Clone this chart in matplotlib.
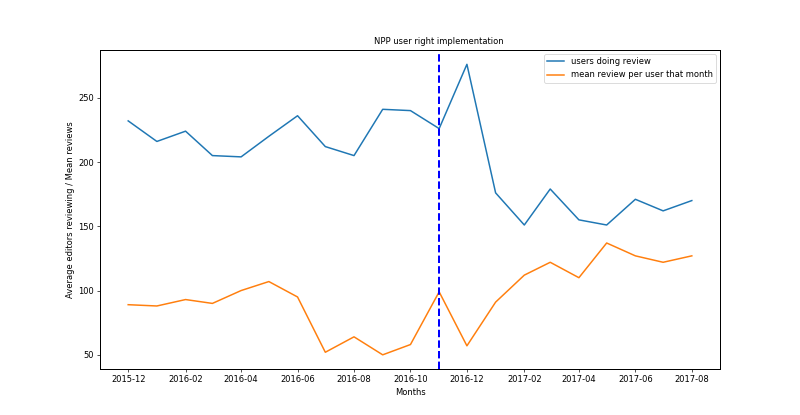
import pandas as pd
import matplotlib
matplotlib.use("Agg")
import matplotlib.pyplot as plt
import matplotlib.transforms as mtransforms

# monthly data, 2015-12 .. 2017-08
months = pd.date_range("2015-12-01", "2017-08-01", freq="MS")

users_doing_review = [232, 216, 224, 205, 204, 220, 236, 212, 205, 241, 240, 226,
                      276, 176, 151, 179, 155, 151, 171, 162, 170]
mean_review_per_user = [89, 88, 93, 90, 100, 107, 95, 52, 64, 50, 58, 99,
                        57, 91, 112, 122, 110, 137, 127, 122, 127]

implementation = pd.Timestamp("2016-11-01")

fig, ax = plt.subplots(figsize=(800 / 60, 415 / 60), dpi=60)

ax.plot(months, users_doing_review, label="users doing review", linewidth=1.8)
ax.plot(months, mean_review_per_user, label="mean review per user that month", linewidth=1.8)
ax.axvline(implementation, color="b", linestyle="--", linewidth=2.4)

ax.set_xticks(months[::2])
ax.set_xticklabels([d.strftime("%Y-%m") for d in months[::2]])

# label sits on top of the implementation line
trans = mtransforms.blended_transform_factory(ax.transData, ax.transAxes)
ax.text(implementation, 1.012, "NPP user right implementation", transform=trans,
        ha="center", va="bottom", fontsize=10)
ax.set_xlabel("Months")
ax.set_ylabel("Average editors reviewing / Mean reviews")
ax.legend(loc="upper right")
for s in ax.spines.values():
    s.set_linewidth(1.2)

plt.savefig("out.png", dpi=60)
